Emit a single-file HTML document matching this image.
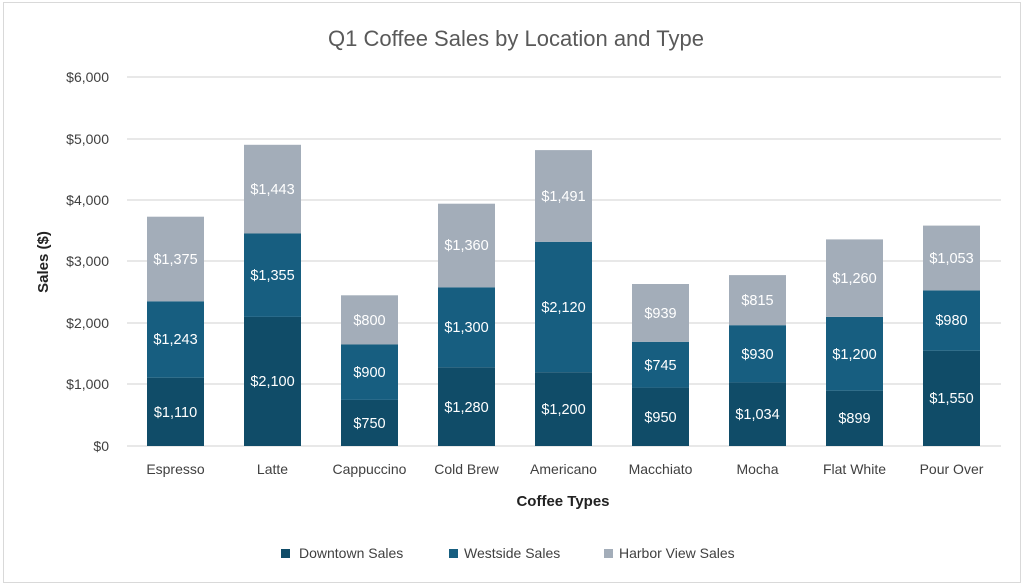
<!DOCTYPE html>
<html><head><meta charset="utf-8"><style>
html,body{margin:0;padding:0;background:#fff;}
svg{display:block;font-family:"Liberation Sans",sans-serif;}
.t{font-size:14px;fill:#404040;}
.v{font-size:14.5px;fill:#fff;text-anchor:middle;}
.c{font-size:14px;fill:#404040;text-anchor:middle;}
</style></head><body>
<svg width="1024" height="586" viewBox="0 0 1024 586">
<rect x="3.5" y="2.5" width="1017" height="580" fill="#fff" stroke="#d9d9d9"/>
<text x="516" y="46" font-size="22" fill="#595959" text-anchor="middle">Q1 Coffee Sales by Location and Type</text>
<g stroke="#d9d9d9" stroke-width="1.3">
<line x1="127" x2="1001" y1="77" y2="77"/><line x1="127" x2="1001" y1="139" y2="139"/>
<line x1="127" x2="1001" y1="200" y2="200"/><line x1="127" x2="1001" y1="261" y2="261"/>
<line x1="127" x2="1001" y1="323" y2="323"/><line x1="127" x2="1001" y1="384" y2="384"/>
<line x1="127" x2="1001" y1="446" y2="446"/>
</g>
<g class="t" text-anchor="end">
<text x="109" y="82">$6,000</text><text x="109" y="144">$5,000</text><text x="109" y="205">$4,000</text>
<text x="109" y="266">$3,000</text><text x="109" y="328">$2,000</text><text x="109" y="389">$1,000</text>
<text x="109" y="451">$0</text>
</g>
<text transform="translate(48,262) rotate(-90)" font-size="15" font-weight="bold" fill="#222" text-anchor="middle">Sales ($)</text>
<g>
<!-- Espresso -->
<rect x="147" y="377.7" width="57" height="68.3" fill="#104c68"/><rect x="147" y="301.3" width="57" height="76.4" fill="#175e80"/><rect x="147" y="216.7" width="57" height="84.6" fill="#a3adb9"/>
<!-- Latte -->
<rect x="244" y="316.9" width="57" height="129.1" fill="#104c68"/><rect x="244" y="233.5" width="57" height="83.4" fill="#175e80"/><rect x="244" y="144.8" width="57" height="88.7" fill="#a3adb9"/>
<!-- Cappuccino -->
<rect x="341" y="399.9" width="57" height="46.1" fill="#104c68"/><rect x="341" y="344.5" width="57" height="55.4" fill="#175e80"/><rect x="341" y="295.3" width="57" height="49.2" fill="#a3adb9"/>
<!-- Cold Brew -->
<rect x="438" y="367.3" width="57" height="78.7" fill="#104c68"/><rect x="438" y="287.3" width="57" height="80" fill="#175e80"/><rect x="438" y="203.7" width="57" height="83.6" fill="#a3adb9"/>
<!-- Americano -->
<rect x="535" y="372.2" width="57" height="73.8" fill="#104c68"/><rect x="535" y="241.8" width="57" height="130.4" fill="#175e80"/><rect x="535" y="150.1" width="57" height="91.7" fill="#a3adb9"/>
<!-- Macchiato -->
<rect x="632" y="387.6" width="57" height="58.4" fill="#104c68"/><rect x="632" y="341.8" width="57" height="45.8" fill="#175e80"/><rect x="632" y="284" width="57" height="57.8" fill="#a3adb9"/>
<!-- Mocha -->
<rect x="729" y="382.4" width="57" height="63.6" fill="#104c68"/><rect x="729" y="325.2" width="57" height="57.2" fill="#175e80"/><rect x="729" y="275.1" width="57" height="50.1" fill="#a3adb9"/>
<!-- Flat White -->
<rect x="826" y="390.7" width="57" height="55.3" fill="#104c68"/><rect x="826" y="316.9" width="57" height="73.8" fill="#175e80"/><rect x="826" y="239.4" width="57" height="77.5" fill="#a3adb9"/>
<!-- Pour Over -->
<rect x="923" y="350.7" width="57" height="95.3" fill="#104c68"/><rect x="923" y="290.4" width="57" height="60.3" fill="#175e80"/><rect x="923" y="225.6" width="57" height="64.8" fill="#a3adb9"/>
</g>
<g class="v">
<text x="175.5" y="417">$1,110</text><text x="175.5" y="344">$1,243</text><text x="175.5" y="264">$1,375</text>
<text x="272.5" y="386">$2,100</text><text x="272.5" y="280">$1,355</text><text x="272.5" y="194">$1,443</text>
<text x="369.5" y="428">$750</text><text x="369.5" y="377">$900</text><text x="369.5" y="325">$800</text>
<text x="466.5" y="412">$1,280</text><text x="466.5" y="332">$1,300</text><text x="466.5" y="250">$1,360</text>
<text x="563.5" y="414">$1,200</text><text x="563.5" y="312">$2,120</text><text x="563.5" y="201">$1,491</text>
<text x="660.5" y="422">$950</text><text x="660.5" y="370">$745</text><text x="660.5" y="318">$939</text>
<text x="757.5" y="419">$1,034</text><text x="757.5" y="359">$930</text><text x="757.5" y="305">$815</text>
<text x="854.5" y="423">$899</text><text x="854.5" y="359">$1,200</text><text x="854.5" y="283">$1,260</text>
<text x="951.5" y="403">$1,550</text><text x="951.5" y="325">$980</text><text x="951.5" y="263">$1,053</text>
</g>
<g class="c">
<text x="175.5" y="474">Espresso</text><text x="272.5" y="474">Latte</text><text x="369.5" y="474">Cappuccino</text>
<text x="466.5" y="474">Cold Brew</text><text x="563.5" y="474">Americano</text><text x="660.5" y="474">Macchiato</text>
<text x="757.5" y="474">Mocha</text><text x="854.5" y="474">Flat White</text><text x="951.5" y="474">Pour Over</text>
</g>
<text x="563" y="506" font-size="15" font-weight="bold" fill="#222" text-anchor="middle">Coffee Types</text>
<g font-size="14" fill="#404040">
<rect x="281" y="549" width="9" height="9" fill="#104c68"/><text x="299" y="558">Downtown Sales</text>
<rect x="449" y="549" width="9" height="9" fill="#175e80"/><text x="464" y="558">Westside Sales</text>
<rect x="604" y="549" width="9" height="9" fill="#a3adb9"/><text x="619" y="558">Harbor View Sales</text>
</g>
</svg>
</body></html>
